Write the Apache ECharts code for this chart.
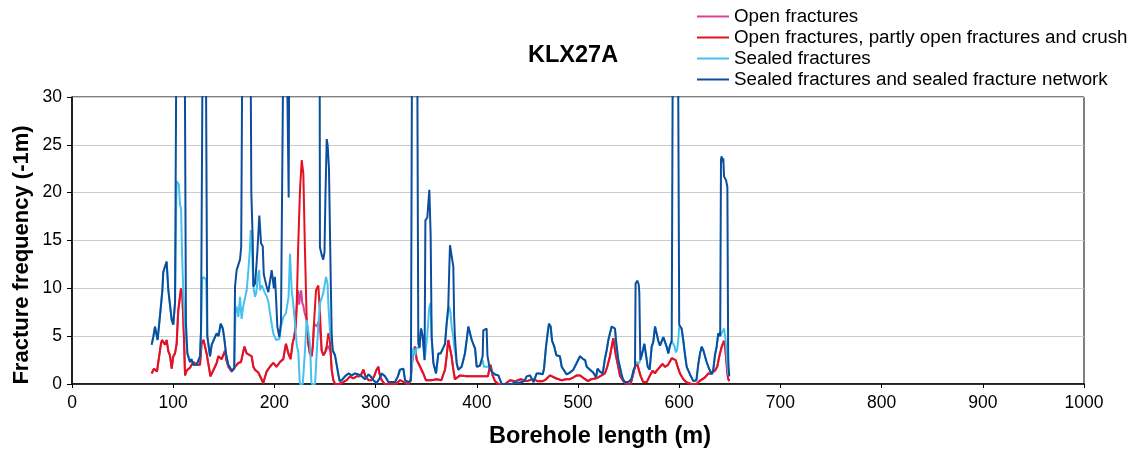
<!DOCTYPE html>
<html>
<head>
<meta charset="utf-8">
<script src="https://cdn.jsdelivr.net/npm/echarts@6/dist/echarts.min.js"></script>
<style>
html,body{margin:0;padding:0;background:#fff;}
#chart{width:1132px;height:450px;}
</style>
</head>
<body>
<div id="chart"></div>
<script>
// ---- Data (borehole length m, fracture frequency 1/m) ----
const chartTitle = 'KLX27A';
const seriesNames = [
  'Open fractures',
  'Open fractures, partly open fractures and crush',
  'Sealed fractures',
  'Sealed fractures and sealed fracture network'
];
const xTicks = [0,100,200,300,400,500,600,700,800,900,1000];
const yTicks = [0,5,10,15,20,25,30];

const openCrush = [[78.7,1.1],[81,1.6],[82.6,1.4],[84,1.3],[85.3,2.3],[87.9,4.2],[89,4.6],[90.2,4.6],[91.9,4.1],[93.5,4.6],[95.2,3.4],[96.8,3.0],[98.5,1.6],[100.1,2.9],[101.8,3.2],[103.4,4.2],[105,7.7],[107.7,10],[109,9.3],[110.4,5.6],[111.7,0.9],[113.3,1.4],[116.6,1.7],[119.9,2.3],[123.2,2.0],[126.5,2.0],[128,4.2],[130,4.6],[131.4,4.6],[133,3.2],[135.7,1.5],[136.8,0.8],[138.5,0.8],[141.3,1.8],[143,2.2],[144.6,2.9],[147.9,2.6],[151.2,3.5],[152.5,2.5],[154.5,1.8],[157.8,1.3],[161.1,1.8],[164.4,2.2],[167,2.3],[170.3,3.9],[172.6,3.2],[174.3,3.1],[177.5,2.9],[179.2,1.8],[180.8,1.5],[184.1,1.2],[185.8,1.1],[189,0.1],[192.3,1.3],[195.6,1.8],[198.9,2.2],[202.2,1.8],[205.5,2.3],[208.8,2.6],[210.5,3.7],[211.4,4.2],[213.8,3.2],[216,2.6],[217.9,4.2],[219.5,4.9],[221,6],[222,8.1],[223.6,14.7],[225.3,20.3],[227,23.4],[228.6,22],[230.2,14],[231.9,6.7],[233.5,4.2],[235,3.2],[236.9,2.9],[238,4],[239.1,6.3],[241.1,9.8],[243.4,10.3],[245,7.5],[246.7,3.5],[248.5,3.0],[250,3.3],[251.7,4.0],[253.3,5.3],[254.5,5.0],[255.5,3.5],[256.6,1.5],[258.2,0.4],[260,0],[264,0],[268,0.2],[271.4,0.4],[274.7,0.8],[278,0.6],[281.3,0.8],[284,0.8],[286.3,1.1],[287.9,1.5],[290,0.8],[293,0.4],[296,0.4],[298.5,0.8],[301,1.5],[302.7,1.8],[304,1.0],[306,0.4],[309,0],[320,0],[324.1,0.4],[328,0.2],[332.4,0],[334.5,0.3],[335.7,1.8],[337.3,3.5],[339,3.9],[340.6,2.5],[342.2,2.2],[344,2.0],[347.1,1.1],[349.7,0.4],[355,0.4],[360.4,0.5],[365,0.4],[367.6,1.2],[368.6,1.5],[370.2,2.9],[371.8,4.6],[373.5,4.8],[375.1,2.9],[376.8,1.5],[378.4,0.5],[383.4,0.9],[390,0.8],[395,0.8],[398.3,0.8],[403.2,0.8],[408,0.8],[411,0.8],[412.4,1.6],[413.7,2.0],[415.6,0.9],[418,0.3],[421.3,0],[428,0],[432.8,0.4],[438,0.3],[443.6,0.5],[449,0.3],[455.9,0.5],[460,0.3],[465,0.3],[467.4,0.4],[472.3,0.9],[474,0.9],[478,0.6],[483.9,0.4],[488,0.5],[492,0.5],[495.4,0.7],[498.7,0.9],[502,0.9],[503.6,0.9],[507,0.5],[510,0.3],[513,0.5],[518,0.6],[520,0.7],[523.3,0.9],[526.6,1.1],[528.9,1.8],[531.6,2.9],[533.3,3.9],[534.9,4.8],[536.5,3.6],[537.6,2.9],[539.8,1.8],[541.4,0.9],[544.8,0.3],[548,0],[552,0],[554.7,1.1],[556.3,1.8],[558.6,2.1],[560.3,1.4],[562,0.8],[564.5,0.2],[568,0.2],[571.1,0.9],[573.8,1.4],[576,1.1],[577.8,1.4],[581,1.8],[583.6,2.1],[585.9,1.8],[589,2.0],[592.6,2.7],[594.2,2.9],[596.5,2.5],[599.1,1.6],[600.8,1.1],[604.1,0.5],[607,0.2],[612,0],[617,0],[620,0.3],[625.5,0.7],[628.8,1.1],[632,1.1],[635.3,1.4],[637.6,1.8],[639.6,2.9],[642,3.9],[644.3,4.5],[645.5,3.8],[647.6,1.1],[648.5,0.5],[649.5,0.3]];

const openFrac = [[78.7,1.1],[81,1.6],[82.6,1.4],[84,1.3],[85.3,2.3],[87.9,4.2],[89,4.6],[90.2,4.6],[91.9,4.1],[93.5,4.6],[95.2,3.4],[96.8,3.0],[98.5,1.6],[100.1,2.9],[101.8,3.2],[103.4,4.2],[105,7.7],[107.7,10],[109,9.3],[110.4,5.6],[111.7,0.9],[113.3,1.4],[116.6,1.7],[119.9,2.3],[123.2,2.0],[126.5,2.0],[128,4.2],[130,4.6],[131.4,4.6],[133,3.2],[135.7,1.5],[136.8,0.8],[138.5,0.8],[141.3,1.8],[143,2.2],[144.6,2.9],[147.9,2.6],[151.2,3.5],[152.5,2.5],[154.5,1.8],[157.8,1.3],[161.1,1.8],[164.4,2.2],[167,2.3],[170.3,3.9],[172.6,3.2],[174.3,3.1],[177.5,2.9],[179.2,1.8],[180.8,1.5],[184.1,1.2],[185.8,1.1],[189,0.1],[192.3,1.3],[195.6,1.8],[198.9,2.2],[202.2,1.8],[205.5,2.3],[208.8,2.6],[210.5,3.7],[211.4,4.2],[213.8,3.2],[216,2.6],[217.9,4.2],[219.5,4.9],[221,6],[222.3,8.5],[223.6,9.8],[224.5,8.3],[225.5,9.2],[226.5,9.8],[227.5,8.5],[228.6,8.2],[229.7,7.5],[231,7.0],[231.9,6.7],[233.5,4.2],[235,3.2],[236.9,2.9],[238,4],[239.1,6.3],[240.5,6.5],[242,6.0],[243.4,6.5],[245,5.8],[246.7,3.5],[248.5,3.0],[250,3.3],[251.7,3.5],[253.3,4.0],[254.5,3.8],[255.5,3.3],[256.6,1.5],[258.2,0.4],[260,0],[264,0],[268,0.2],[271.4,0.4],[274.7,0.8],[278,0.6],[281.3,0.8],[284,0.8],[286.3,1.1],[287.9,1.5],[290,0.8],[293,0.4],[296,0.4],[298.5,0.8],[301,1.5],[302.7,1.8],[304,1.0],[306,0.4],[309,0],[320,0],[324.1,0.4],[328,0.2],[332.4,0],[334.5,0.3],[335.7,1.8],[337.3,3.5],[339,3.9],[340.6,2.5],[342.2,2.2],[344,2.0],[347.1,1.1],[349.7,0.4],[355,0.4],[360.4,0.5],[365,0.4],[367.6,1.2],[368.6,1.5],[370.2,2.9],[371.8,4.6],[373.5,4.8],[375.1,2.9],[376.8,1.5],[378.4,0.5],[383.4,0.9],[390,0.8],[395,0.8],[398.3,0.8],[403.2,0.8],[408,0.8],[411,0.8],[412.4,1.6],[413.7,2.0],[415.6,0.9],[418,0.3],[421.3,0],[428,0],[432.8,0.4],[438,0.3],[443.6,0.5],[449,0.3],[455.9,0.5],[460,0.3],[465,0.3],[467.4,0.4],[472.3,0.9],[474,0.9],[478,0.6],[483.9,0.4],[488,0.5],[492,0.5],[495.4,0.7],[498.7,0.9],[502,0.9],[503.6,0.9],[507,0.5],[510,0.3],[513,0.5],[518,0.6],[520,0.7],[523.3,0.9],[526.6,1.1],[528.9,1.8],[531.6,2.9],[533.3,3.9],[534.9,4.8],[536.5,3.6],[537.6,2.9],[539.8,1.8],[541.4,0.9],[544.8,0.3],[548,0],[552,0],[554.7,1.1],[556.3,1.8],[558.6,2.1],[560.3,1.4],[562,0.8],[564.5,0.2],[568,0.2],[571.1,0.9],[573.8,1.4],[576,1.1],[577.8,1.4],[581,1.8],[583.6,2.1],[585.9,1.8],[589,2.0],[592.6,2.7],[594.2,2.9],[596.5,2.5],[599.1,1.6],[600.8,1.1],[604.1,0.5],[607,0.2],[612,0],[617,0],[620,0.3],[625.5,0.7],[628.8,1.1],[632,1.1],[635.3,1.4],[637.6,1.8],[639.6,2.9],[642,3.9],[644.3,4.5],[645.5,3.8],[647.6,1.1],[648.5,0.5],[649.5,0.3]];

const sealedNet = [[78.7,4.1],[80.5,5.0],[82,6.0],[84.6,4.6],[87,7.2],[89.3,9.8],[90.2,11.7],[91.9,11.8],[93.5,12.8],[95.2,9.8],[96.8,10],[98.5,6.7],[100.1,6.2],[101.8,8.5],[103.6,45],[111.0,45],[112.6,6.4],[114,3.2],[115,3.0],[116.6,2.3],[118,2.6],[119.9,2.0],[121.5,2.0],[123.2,2.0],[124.8,2.1],[126.5,2.9],[127.5,5.6],[129.6,45],[131.8,45],[133.7,5.0],[136.4,2.9],[138,4.1],[139.7,4.0],[141.3,4.9],[143,5.3],[144.8,5.0],[146.9,6.3],[149,5.8],[150.3,4.9],[152.3,3.1],[154.5,2.0],[157.8,1.4],[159.4,1.6],[160.3,1.6],[161.1,10.2],[162.7,11.9],[164.4,12.0],[166,13.0],[167.2,14.3],[168.8,45],[176.0,45],[177.2,20],[178.6,15],[179.2,10.2],[180.9,10.5],[182,12],[183.2,13.9],[185.1,17.6],[186.8,14.7],[188.5,14.4],[189.5,11.5],[190.7,10.9],[192.3,10.2],[194,9.6],[195.6,9.8],[197.3,11.9],[198.3,11.9],[199.5,10.0],[200.5,11.2],[201.6,9.1],[202.9,6.0],[204.9,4.9],[206.5,6.4],[207.5,6.6],[209.6,45],[212.2,36],[214.1,19.5],[215.0,45],[244.6,45],[245.0,14.3],[246.7,13.5],[248.3,13.0],[249.5,13.8],[250.5,20],[251.7,25.6],[252.6,25.0],[253.9,22.6],[255.5,12],[256.6,5.3],[257.6,3.5],[259.9,3.0],[261.5,2.8],[263.2,1.0],[264.5,0.3],[266.5,0.4],[269.8,0.8],[273.1,1.1],[276.4,0.9],[279.7,1.1],[283,1.0],[286.3,0.8],[289.6,0.5],[293,1.0],[295,0.8],[297.8,0.4],[301,0.1],[304,0.6],[306,1.1],[309.3,0.8],[312.6,0.2],[316,0.2],[319.2,0.2],[322,0.8],[324.1,1.5],[327.4,1.6],[329.1,0.4],[332.4,0.2],[334.9,0.4],[336.3,45],[340.8,45],[342.2,4.2],[343.4,3.8],[344.9,5.8],[346.5,5.0],[348.4,2.5],[349.2,17.1],[351.1,17.4],[353.1,20.3],[354.4,15.5],[355.4,4.9],[357.1,2.2],[359.7,1.1],[362,3.2],[364.3,3.2],[366,3.2],[368.6,4.2],[370.2,6.3],[371.8,8.1],[372.8,12],[373.5,14.5],[374.3,14.0],[375.1,13.4],[376.8,12.3],[377.6,7],[378.4,4.9],[380.1,2.2],[381.7,1.5],[383.4,1.5],[385,1.8],[388.3,3.2],[390,4.6],[391.6,6.0],[393.3,6.2],[395,4.6],[396.6,4.8],[398.3,3.7],[399.9,1.8],[403,1.9],[405.8,2.9],[406.4,5.6],[409.7,5.8],[410.5,3.0],[412.4,1.8],[414.6,1.3],[418,1.0],[421.3,0.9],[424.6,0],[434.5,0],[437.8,0.2],[441,0.1],[444,0.2],[447,0.3],[449.3,0.8],[452.6,0.9],[456,0.2],[459.2,1.1],[462.5,1.1],[465.1,1.0],[466.4,1.6],[468.4,3.9],[470,5.3],[471.3,6.3],[472.3,6.4],[473,6.0],[474.4,4.5],[476.6,3.9],[478.6,3.0],[482.1,2.9],[483.9,1.8],[485.5,1.8],[488.8,1.0],[492,1.2],[495.4,1.5],[498.7,2.2],[502,2.9],[503.6,2.9],[505,2.6],[507,2.5],[508.6,1.8],[511.9,1.5],[515,1.2],[517.8,0.7],[519.3,1.6],[521.7,1.3],[524.4,1.1],[526.7,2.7],[528.3,3.5],[530,4.6],[531.6,5.3],[533.3,6.0],[534.9,6.2],[536.5,5.8],[537.9,4.2],[539.8,2.5],[541.4,1.8],[542.8,1.1],[544.4,0.5],[546.4,0.2],[549,0.2],[551,0.3],[553.1,0.6],[554.7,1.4],[556.3,1.8],[556.9,10.5],[558.6,10.8],[560,10.4],[560.6,9.5],[561.6,2.5],[563,3.0],[565.6,4.2],[566.5,4.0],[568.9,1.8],[570.8,1.5],[572.8,3.9],[574.4,4.4],[576.1,6.0],[577.7,6.1],[579.4,4.5],[581,4.0],[582.7,3.9],[584.3,4.9],[586,4.8],[587.6,3.9],[589.3,3.2],[590.8,4.0],[592.6,4.5],[594,45],[598.5,45],[600,6.2],[600.8,6.0],[602.4,5.8],[604.1,4.5],[605.7,3.1],[607.4,1.8],[610.7,1.0],[614,0.3],[617,0.4],[618.9,2.1],[620.6,3.2],[622.2,3.9],[623.9,3.5],[625.5,2.9],[627.1,2.3],[628.8,1.8],[630.4,1.4],[632,1.0],[633.7,1.5],[635.3,3.0],[637,3.9],[638.6,5.3],[640.5,5.0],[641.3,23.5],[642,23.8],[643,23.2],[643.6,23.6],[644.3,21.7],[646.3,21.3],[647.6,20.6],[648.4,3],[648.8,1.8],[649.5,0.8]];

const sealedFrac = [[78.7,4.1],[80.5,5.0],[82,6.0],[84.6,4.6],[87,7.2],[89.3,9.8],[90.2,11.7],[91.9,11.8],[93.5,12.8],[95.2,9.8],[96.8,10],[98.5,6.7],[100.1,6.2],[101.8,8.5],[103.3,21.2],[104.5,21.2],[105.5,20.9],[106.8,18.7],[107.8,18.3],[108.8,13.4],[110.1,9.3],[111.4,6.4],[112.6,6.2],[114,3.2],[115,3.0],[116.6,2.3],[118,2.6],[119.9,2.0],[121.5,2.0],[123.2,2.0],[124.8,2.1],[126.5,2.9],[127.5,5.6],[128.5,10.9],[130,11.2],[131.4,11.2],[132.5,10.9],[133.7,5.0],[136.4,2.9],[138,4.1],[139.7,4.0],[141.3,4.9],[143,5.3],[144.8,5.0],[146.9,6.3],[149,5.8],[150.3,4.9],[152.3,3.1],[154.5,2.0],[157.8,1.4],[159.4,1.6],[160.3,1.6],[161.5,7.5],[162.7,8.1],[164.4,7.0],[166,9.1],[167.6,6.8],[169,8.0],[170.5,7.9],[172.6,9.8],[174.3,11.9],[175.9,14.3],[176.6,16.1],[177.6,15.0],[178.6,12],[179.5,10],[180.8,9.1],[182,9.5],[184.1,11.6],[185,11.9],[185.8,9.8],[187.5,10.3],[190.7,9.5],[192.3,9.2],[194,8.6],[195.7,7.4],[197.3,6.3],[198.9,5.3],[201.6,4.6],[202.9,4.8],[204.9,4.7],[206.5,6.0],[208.8,7.0],[211.4,7.4],[212.5,7.5],[214,9.1],[215.4,13.6],[217.1,9.8],[218.5,8.5],[220.4,6.3],[222,4.2],[223.7,3.2],[225,0.3],[225.5,0],[228,0],[229,1.5],[230.2,3.5],[231.9,6.7],[233,6.5],[235.2,4.2],[236.5,0.3],[237,0],[240.2,0],[241.8,3.2],[243.5,6.3],[245.2,8.5],[248.3,9.5],[251,11.2],[252.5,10.5],[253.5,8],[255,5.3],[256.6,4.5],[257.6,3.5],[259.9,3.0],[261.5,2.8],[263.2,1.0],[264.5,0.3],[266.5,0.4],[269.8,0.8],[273.1,1.1],[276.4,0.9],[279.7,1.1],[283,1.0],[286.3,0.8],[289.6,0.5],[293,1.0],[295,0.8],[297.8,0.4],[301,0.1],[304,0.6],[306,1.1],[309.3,0.8],[312.6,0.2],[316,0.2],[319.2,0.2],[322,0.8],[324.1,1.5],[327.4,1.6],[329.1,0.4],[332.4,0.2],[334.9,0.4],[335.7,1.8],[337.3,3.8],[339,3.0],[340.6,3.8],[342.2,4.0],[343.4,3.8],[344.9,5.8],[346.5,5.0],[348.4,2.5],[349.5,3.5],[351,5],[353,8],[354.4,8.5],[355.4,4.9],[357.1,2.2],[359.7,1.1],[362,3.2],[364.3,3.2],[366,3.2],[368.6,4.2],[370.2,6.3],[371.8,7.5],[372.8,8.1],[374,7.5],[375.1,6],[376.8,4.9],[377.6,4.0],[378.4,3.5],[380.1,2.2],[381.7,1.5],[383.4,1.5],[385,1.8],[388.3,3.2],[390,4.6],[391.6,6.0],[393.3,6.2],[395,4.6],[396.6,4.8],[398.3,3.7],[399.9,1.8],[403,1.9],[405.8,2.5],[407,1.8],[409.7,1.8],[411,2.0],[412.4,1.8],[414.6,1.3],[418,1.0],[421.3,0.9],[424.6,0],[434.5,0],[437.8,0.2],[441,0.1],[444,0.2],[447,0.3],[449.3,0.8],[452.6,0.9],[456,0.2],[459.2,1.1],[462.5,1.1],[465.1,1.0],[466.4,1.6],[468.4,3.9],[470,5.3],[471.3,6.3],[472.3,6.4],[473,6.0],[474.4,4.5],[476.6,3.9],[478.6,3.0],[482.1,2.9],[483.9,1.8],[485.5,1.8],[488.8,1.0],[492,1.2],[495.4,1.5],[498.7,2.2],[502,2.9],[503.6,2.9],[505,2.6],[507,2.5],[508.6,1.8],[511.9,1.5],[515,1.2],[517.8,0.7],[519.3,1.6],[521.7,1.3],[524.4,1.1],[526.7,2.7],[528.3,3.5],[530,4.6],[531.6,5.3],[533.3,6.0],[534.9,6.2],[536.5,5.8],[537.9,4.2],[539.8,2.5],[541.4,1.8],[542.8,1.1],[544.4,0.5],[546.4,0.2],[549,0.2],[551,0.3],[553.1,0.6],[554.7,1.4],[556.3,1.8],[557,2.3],[558.6,2.5],[560.6,2.2],[561.6,2.3],[563,3.0],[565.6,4.2],[566.5,4.0],[568.9,1.8],[570.8,1.5],[572.8,3.9],[574.4,4.4],[576.1,6.0],[577.7,6.1],[579.4,4.5],[581,4.0],[582.7,3.9],[584.3,4.9],[586,4.8],[587.6,3.9],[589.3,3.2],[590.8,4.0],[592.6,4.5],[594,4.6],[595.5,3.9],[596.7,3.3],[598,3.6],[599.1,4.6],[600,6.0],[600.8,6.0],[602.4,5.8],[604.1,4.5],[605.7,3.1],[607.4,1.8],[610.7,1.0],[614,0.3],[617,0.4],[618.9,2.1],[620.6,3.2],[622.2,3.9],[623.9,3.5],[625.5,2.9],[627.1,2.3],[628.8,1.8],[630.4,1.4],[632,1.0],[633.7,1.5],[635.3,3.0],[637,3.9],[638.6,5.3],[640.5,5.0],[642,5.2],[644.3,5.8],[646,4.5],[647.6,2.0],[648.5,1.0],[649.5,0.8]];

const seriesColors = ['#d4449a', '#e3121f', '#45c1ef', '#0b4e9e'];
const seriesData = [openFrac, openCrush, sealedFrac, sealedNet];

const chart = echarts.init(document.getElementById('chart'), null, {renderer: 'canvas'});
const FONT = 'Liberation Sans, Arial, sans-serif';

chart.setOption({
  animation: false,
  backgroundColor: '#ffffff',
  title: {
    text: chartTitle,
    left: 528, top: 44,
    padding: 0,
    textStyle: {fontFamily: FONT, fontSize: 23.5, fontWeight: 'bold', color: '#000'}
  },
  legend: {
    orient: 'vertical',
    left: 697, top: 6,
    padding: 0,
    itemGap: 0,
    itemWidth: 32, itemHeight: 2,
    icon: 'rect',
    data: seriesNames,
    textStyle: {fontFamily: FONT, fontSize: 18.8, color: '#000', lineHeight: 21}
  },
  grid: {
    left: 72, right: 48, top: 97, bottom: 66,
    show: true, borderColor: '#000', borderWidth: 1, backgroundColor: 'transparent'
  },
  xAxis: {
    type: 'value',
    min: xTicks[0], max: xTicks[xTicks.length - 1], interval: xTicks[1] - xTicks[0],
    axisLine: {show: true, onZero: false, lineStyle: {color: '#000', width: 1.5}},
    axisTick: {show: true, length: 4, inside: false, lineStyle: {color: '#000', width: 1}},
    axisLabel: {fontFamily: FONT, fontSize: 17.5, color: '#000', margin: 10,
      formatter: function (v) { return String(v); }},
    splitLine: {show: false}
  },
  yAxis: {
    type: 'value',
    min: yTicks[0], max: yTicks[yTicks.length - 1], interval: yTicks[1] - yTicks[0],
    axisLine: {show: true, onZero: false, lineStyle: {color: '#000', width: 1.5}},
    axisTick: {show: true, length: 5, inside: false, lineStyle: {color: '#000', width: 1}},
    axisLabel: {fontFamily: FONT, fontSize: 17.5, color: '#000', margin: 10},
    splitLine: {show: true, lineStyle: {color: '#cccccc', width: 1}}
  },
  graphic: [
    {
      type: 'text', x: 22, y: 255, rotation: Math.PI / 2,
      style: {text: 'Fracture frequency (-1m)', fontFamily: FONT, fontSize: 22, fontWeight: 'bold',
        fill: '#000', align: 'center', verticalAlign: 'middle'}
    },
    {
      type: 'text', x: 600, y: 437,
      style: {text: 'Borehole length (m)', fontFamily: FONT, fontSize: 23.5, fontWeight: 'bold',
        fill: '#000', align: 'center', verticalAlign: 'middle'}
    }
  ],
  series: seriesNames.map((name, i) => ({
    name: name,
    type: 'line',
    data: seriesData[i],
    showSymbol: false,
    symbol: 'none',
    clip: true,
    lineStyle: {color: seriesColors[i], width: 2},
    itemStyle: {color: seriesColors[i]},
    z: 2 + i
  }))
});
</script>
</body>
</html>
